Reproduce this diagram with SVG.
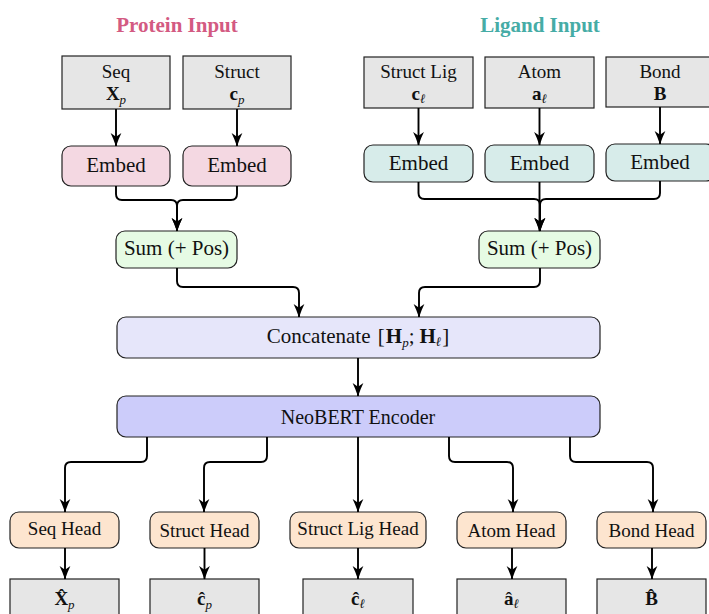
<svg xmlns="http://www.w3.org/2000/svg" width="709" height="614" viewBox="0 0 709 614">
  <defs>
    <marker id="arrow" markerUnits="userSpaceOnUse" markerWidth="14" markerHeight="12" viewBox="0 0 14 12" refX="13" refY="6" orient="auto">
      <path d="M0,0.6 Q6,3.6 13.5,6 Q6,8.4 0,11.4 L3.8,6 Z" fill="#000"/>
    </marker>
    <style>
      text { font-family: "Liberation Serif", "Times New Roman", serif; fill: #111; }
      .title { font-weight: bold; font-size: 21px; text-anchor: middle; }
      .lbl { font-size: 19px; text-anchor: middle; }
      .big { font-size: 21px; text-anchor: middle; }
      .enc-t { font-size: 20px; text-anchor: middle; }
      .b { font-weight: bold; }
      .sub { font-style: italic; font-size: 13px; }
      .data { fill: #e6e6e6; stroke: #222; stroke-width: 1.2; }
      .emb-p { fill: #f4d8e2; stroke: #222; stroke-width: 1.2; }
      .emb-l { fill: #d7ecea; stroke: #222; stroke-width: 1.2; }
      .sum { fill: #e6fbe4; stroke: #222; stroke-width: 1.2; }
      .cat { fill: #e6e6fa; stroke: #222; stroke-width: 1.2; }
      .enc { fill: #ccccfa; stroke: #222; stroke-width: 1.2; }
      .head { fill: #fde5cf; stroke: #222; stroke-width: 1.2; }
      .conn path { fill: none; stroke: #000; stroke-width: 1.9; marker-end: url(#arrow); }
    </style>
  </defs>
  <rect width="709" height="614" fill="#fff"/>

  <!-- section titles -->
  <text class="title" x="177" y="32" style="fill:#d35a82">Protein Input</text>
  <text class="title" x="540" y="32" style="fill:#46aca6">Ligand Input</text>

  <!-- protein inputs -->
  <g id="in-seq">
    <rect class="data" x="62" y="56" width="108" height="53"/>
    <text class="lbl" x="116" y="78">Seq</text>
    <text class="lbl" x="116" y="100"><tspan class="b">X</tspan><tspan class="sub" dy="4">p</tspan></text>
  </g>
  <g id="in-struct">
    <rect class="data" x="183" y="56" width="108" height="53"/>
    <text class="lbl" x="237" y="78">Struct</text>
    <text class="lbl" x="237" y="100"><tspan class="b">c</tspan><tspan class="sub" dy="4">p</tspan></text>
  </g>

  <!-- ligand inputs -->
  <g id="in-structlig">
    <rect class="data" x="364" y="57" width="109" height="51"/>
    <text class="lbl" x="418.5" y="78">Struct Lig</text>
    <text class="lbl" x="418.5" y="100"><tspan class="b">c</tspan><tspan class="sub" dy="3">ℓ</tspan></text>
  </g>
  <g id="in-atom">
    <rect class="data" x="485" y="57" width="109" height="51"/>
    <text class="lbl" x="539.5" y="78">Atom</text>
    <text class="lbl" x="539.5" y="100"><tspan class="b">a</tspan><tspan class="sub" dy="3">ℓ</tspan></text>
  </g>
  <g id="in-bond">
    <rect class="data" x="606" y="57" width="109" height="50"/>
    <text class="lbl" x="660" y="78">Bond</text>
    <text class="lbl" x="660" y="100"><tspan class="b">B</tspan></text>
  </g>

  <!-- embeddings -->
  <g id="emb-seq">
    <rect class="emb-p" x="62" y="146" width="108" height="40" rx="9"/>
    <text class="big" x="116" y="172">Embed</text>
  </g>
  <g id="emb-struct">
    <rect class="emb-p" x="183" y="146" width="108" height="40" rx="9"/>
    <text class="big" x="237" y="172">Embed</text>
  </g>
  <g id="emb-structlig">
    <rect class="emb-l" x="364" y="145" width="109" height="37" rx="9"/>
    <text class="big" x="418.5" y="170">Embed</text>
  </g>
  <g id="emb-atom">
    <rect class="emb-l" x="485" y="145" width="109" height="37" rx="9"/>
    <text class="big" x="539.5" y="170">Embed</text>
  </g>
  <g id="emb-bond">
    <rect class="emb-l" x="606" y="144" width="109" height="37" rx="9"/>
    <text class="big" x="660" y="169">Embed</text>
  </g>

  <!-- sums -->
  <g id="sum-p">
    <rect class="sum" x="116" y="231" width="121" height="37" rx="9"/>
    <text class="big" x="176.5" y="255">Sum (+ Pos)</text>
  </g>
  <g id="sum-l">
    <rect class="sum" x="479" y="231" width="121" height="37" rx="9"/>
    <text class="big" x="539.5" y="255">Sum (+ Pos)</text>
  </g>

  <!-- concatenation and encoder -->
  <g id="concat">
    <rect class="cat" x="117" y="317" width="483" height="41" rx="9"/>
    <text class="big" x="358" y="343">Concatenate <tspan dx="2">[</tspan><tspan class="b" dx="1">H</tspan><tspan class="sub" dy="4">p</tspan><tspan dy="-4">;</tspan><tspan class="b" dx="5">H</tspan><tspan class="sub" dy="3">ℓ</tspan><tspan dy="-3" dx="1">]</tspan></text>
  </g>
  <g id="encoder">
    <rect class="enc" x="117" y="396" width="483" height="41" rx="9"/>
    <text class="enc-t" x="358" y="424">NeoBERT Encoder</text>
  </g>

  <!-- heads -->
  <g id="head-seq">
    <rect class="head" x="10" y="512" width="109" height="36" rx="9"/>
    <text class="lbl" x="64.5" y="535">Seq Head</text>
  </g>
  <g id="head-struct">
    <rect class="head" x="150" y="512" width="109" height="36" rx="9"/>
    <text class="lbl" x="204.5" y="537">Struct Head</text>
  </g>
  <g id="head-structlig">
    <rect class="head" x="290" y="512" width="136" height="36" rx="9"/>
    <text class="lbl" x="358" y="535">Struct Lig Head</text>
  </g>
  <g id="head-atom">
    <rect class="head" x="457" y="512" width="109" height="36" rx="9"/>
    <text class="lbl" x="511.5" y="537">Atom Head</text>
  </g>
  <g id="head-bond">
    <rect class="head" x="597" y="512" width="109" height="36" rx="9"/>
    <text class="lbl" x="651.5" y="537">Bond Head</text>
  </g>

  <!-- predictions -->
  <g id="out-seq">
    <rect class="data" x="10" y="579" width="109" height="42"/>
    <text class="lbl" x="64.5" y="605"><tspan class="b">X̂</tspan><tspan class="sub" dy="4">p</tspan></text>
  </g>
  <g id="out-struct">
    <rect class="data" x="150" y="579" width="109" height="42"/>
    <text class="lbl" x="204.5" y="605"><tspan class="b">ĉ</tspan><tspan class="sub" dy="4">p</tspan></text>
  </g>
  <g id="out-structlig">
    <rect class="data" x="303" y="579" width="110" height="42"/>
    <text class="lbl" x="358" y="605"><tspan class="b">ĉ</tspan><tspan class="sub" dy="3">ℓ</tspan></text>
  </g>
  <g id="out-atom">
    <rect class="data" x="457" y="579" width="109" height="42"/>
    <text class="lbl" x="511.5" y="605"><tspan class="b">â</tspan><tspan class="sub" dy="3">ℓ</tspan></text>
  </g>
  <g id="out-bond">
    <rect class="data" x="597" y="579" width="109" height="42"/>
    <text class="lbl" x="651.5" y="605"><tspan class="b">B̂</tspan></text>
  </g>

  <!-- connectors -->
  <g id="connectors" class="conn">
    <path d="M116,109 V146"/>
    <path d="M237,109 V146"/>
    <path d="M418.5,108 V145"/>
    <path d="M539.5,108 V145"/>
    <path d="M660,107 V144"/>

    <path d="M116,186 V194 Q116,200 122,200 H171 Q177,200 177,206 V231"/>
    <path d="M237,186 V194 Q237,200 231,200 H183 Q177,200 177,206 V231"/>

    <path d="M418.5,182 V193 Q418.5,199 424.5,199 H534 Q540,199 540,205 V231"/>
    <path d="M539.5,182 V231"/>
    <path d="M660,181 V193 Q660,199 654,199 H546 Q540,199 540,205 V231"/>

    <path d="M177,268 V281 Q177,287 183,287 H293 Q299,287 299,293 V317"/>
    <path d="M540,268 V281 Q540,287 534,287 H425 Q419,287 419,293 V317"/>

    <path d="M358,358 V396"/>

    <path d="M147,437 V456 Q147,462 141,462 H71 Q65,462 65,468 V512"/>
    <path d="M267,437 V456 Q267,462 261,462 H210 Q204,462 204,468 V512"/>
    <path d="M358,437 V512"/>
    <path d="M449,437 V456 Q449,462 455,462 H507 Q513,462 513,468 V512"/>
    <path d="M570,437 V456 Q570,462 576,462 H647 Q653,462 653,468 V512"/>

    <path d="M65,548 V579"/>
    <path d="M204.5,548 V579"/>
    <path d="M358,548 V579"/>
    <path d="M512,548 V579"/>
    <path d="M652,548 V579"/>
  </g>
</svg>
